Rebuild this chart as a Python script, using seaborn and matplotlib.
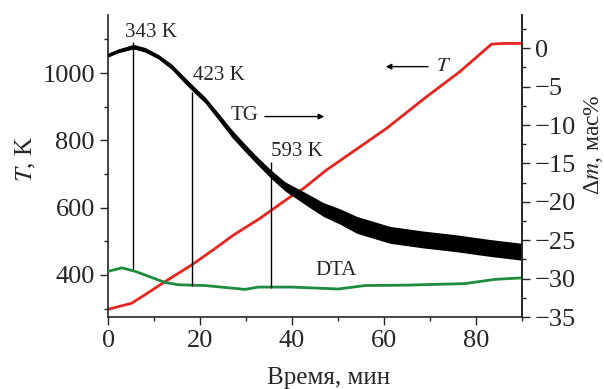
import matplotlib
matplotlib.use("Agg")
import matplotlib.pyplot as plt
import seaborn as sns

# --- data ---
# T, K (left axis)
t_time = [0, 3.7, 5.1, 8.0, 12.0, 18.2, 23.3, 27.2, 33.0, 39.6, 42.5, 47.5, 54.8, 60.6, 69.3, 76.5, 83.4, 86.0, 90.0]
t_kelvin = [298, 311, 316, 341, 377, 430, 479, 518, 568, 632, 657, 712, 781, 836, 930, 1004, 1086, 1088, 1088]

# TG, mass % (right axis): centre line and noise envelope
tg_time = [0, 2.2, 5.5, 8.0, 10.9, 13.8, 16.7, 18.9, 21.1, 24.0, 26.9, 29.8, 32.7, 35.6, 38.5, 41.0,
           43.2, 46.8, 50.4, 54.1, 61.3, 68.5, 75.8, 83.0, 90.0]
tg_mid = [-0.9, -0.35, 0.2, -0.2, -1.1, -2.4, -4.2, -5.5, -6.75, -8.9, -11.1, -13.0, -14.8, -16.5, -18.0, -18.9,
          -19.7, -21.0, -21.9, -23.0, -24.3, -24.9, -25.4, -26.0, -26.5]
tg_hi = [-0.65, -0.1, 0.5, 0.1, -0.8, -2.05, -3.8, -5.1, -6.35, -8.45, -10.6, -12.5, -14.3, -15.95, -17.4, -18.2,
         -18.9, -20.1, -20.9, -21.9, -23.2, -23.8, -24.3, -24.9, -25.4]
tg_lo = [-1.15, -0.6, -0.1, -0.5, -1.4, -2.75, -4.6, -5.9, -7.15, -9.35, -11.6, -13.5, -15.3, -17.05, -18.6, -19.6,
         -20.5, -21.9, -22.9, -24.1, -25.4, -26.0, -26.5, -27.1, -27.6]

# DTA (drawn against right axis)
dta_time = [0, 3.0, 5.9, 8.8, 12.4, 15.3, 21.1, 29.8, 32.7, 39.9, 50.1, 55.9, 64.6, 77.6, 84.1, 90.0]
dta_val = [-29.05, -28.6, -29.05, -29.7, -30.5, -30.8, -30.9, -31.4, -31.1, -31.1, -31.35, -30.9, -30.85, -30.65,
           -30.1, -29.9]

# marked points
mark_time = [5.4, 18.3, 35.4]
mark_top = [0.8, -5.7, -14.8]
mark_bottom = [-28.8, -30.9, -31.2]
mark_labels = ["343 K", "423 K", "593 K"]
label_pos = [(3.7, 2.1), (18.4, -3.6), (35.4, -13.5)]

sns.set_style("ticks")
plt.rcParams["font.family"] = ["Liberation Serif", "DejaVu Serif"]
plt.rcParams["mathtext.fontset"] = "stix"

fig = plt.figure(figsize=(6.04, 3.89), dpi=100)
ax = fig.add_axes([0.179, 0.185, 0.685, 0.776])
ax2 = ax.twinx()

red = "#e8241e"
green = "#1e8b3e"

sns.lineplot(x=t_time, y=t_kelvin, ax=ax, color=red, lw=2, legend=False)
ax2.fill_between(tg_time, tg_lo, tg_hi, color="black", lw=0)
sns.lineplot(x=tg_time, y=tg_mid, ax=ax2, color="black", lw=1.5, legend=False)
sns.lineplot(x=dta_time, y=dta_val, ax=ax2, color=green, lw=2, legend=False)
ax2.vlines(mark_time, mark_bottom, mark_top, color="black", lw=1)

for lab, (x, y) in zip(mark_labels, label_pos):
    ax2.text(x, y, lab, fontsize=15, ha="left", va="center")
ax2.text(26.7, -8.8, "TG", fontsize=15, ha="left", va="center")
ax2.annotate("", xy=(47.6, -8.9), xytext=(33.5, -8.9),
             arrowprops=dict(arrowstyle="-|>", color="black", lw=1, mutation_scale=8))
ax2.text(71.4, -2.4, "$T$", fontsize=15, ha="left", va="center")
ax2.annotate("", xy=(59.8, -2.4), xytext=(70.2, -2.4),
             arrowprops=dict(arrowstyle="-|>", color="black", lw=1, mutation_scale=8))
ax2.text(45, -28.9, "DTA", fontsize=15, ha="left", va="center")

ax.set_xlim(0, 90)
ax.set_ylim(275, 1172)
ax2.set_ylim(-35, 4.3)
ax.set_xticks([0, 20, 40, 60, 80])
ax.set_xticks(range(10, 91, 20), minor=True)
ax.set_yticks([400, 600, 800, 1000])
ax.set_yticks([300, 500, 700, 900, 1100], minor=True)
ax2.set_yticks(range(-35, 1, 5))
ax2.set_yticks([-32.5, -27.5, -22.5, -17.5, -12.5, -7.5, -2.5, 2.5], minor=True)
ax2.set_yticklabels(["\u221235", "\u221230", "\u221225", "\u221220", "\u221215", "\u221210", "\u22125", "0"])

for a in (ax, ax2):
    a.tick_params(which="major", direction="out", length=6, width=1, labelsize=19)
    a.tick_params(which="minor", direction="out", length=3, width=1)
    a.spines["top"].set_visible(False)
    for s in a.spines.values():
        s.set_linewidth(1.2)
ax2.spines["right"].set_visible(True)
ax2.spines["left"].set_visible(False)
ax2.spines["bottom"].set_visible(False)

ax.set_xlabel("Время, мин", fontsize=18)
ax.xaxis.set_label_coords(0.534, -0.165)
ax.set_ylabel("$T$, K", fontsize=18)
ax.yaxis.set_label_coords(-0.17, 0.523)
ax2.set_ylabel("\u0394$m$, мас%", fontsize=17)
ax2.yaxis.set_label_coords(1.145, 0.57)

fig.savefig("out.png", dpi=100)
